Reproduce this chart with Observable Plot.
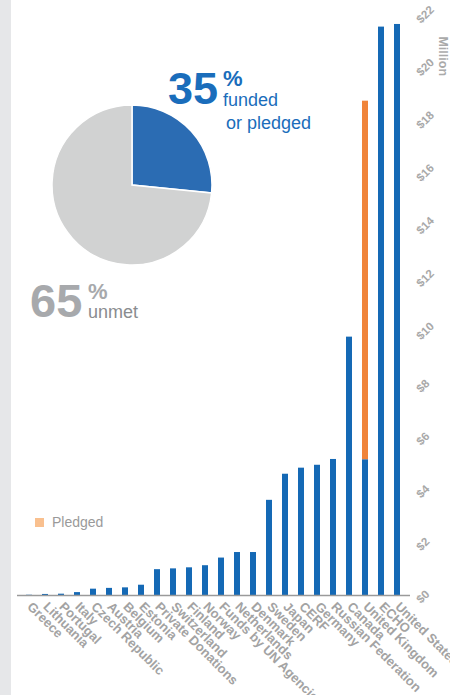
<!DOCTYPE html>
<html>
<head>
<meta charset="utf-8">
<script src="https://cdn.jsdelivr.net/npm/d3@7"></script>
<script src="https://cdn.jsdelivr.net/npm/@observablehq/plot@0.6"></script>
<style>
  html, body { margin: 0; padding: 0; background: #fff; }
  #wrap { position: relative; width: 450px; height: 695px; overflow: hidden; font-family: "Liberation Sans", Arial, sans-serif; }
  #strip { position: absolute; left: 0; top: 0; width: 11px; height: 695px; background: #e6e7e9; }
  #chart { position: absolute; left: 0; top: 0; }
  .t { position: absolute; white-space: nowrap; line-height: 1; }
</style>
</head>
<body>
<div id="wrap">
  <div id="strip"></div>
  <div id="chart"></div>
  <div class="t" style="left:168px; top:66px; font-size:45px; font-weight:bold; color:#1a6dbb;">35</div>
  <div class="t" style="left:223px; top:68px; font-size:22px; font-weight:bold; color:#1a6dbb;">%</div>
  <div class="t" style="left:223px; top:91px; font-size:18px; color:#1a6dbb;">funded</div>
  <div class="t" style="left:226px; top:114px; font-size:18px; color:#1a6dbb;">or pledged</div>
  <div class="t" style="left:30px; top:277px; font-size:47px; font-weight:bold; color:#a7a9ac;">65</div>
  <div class="t" style="left:88px; top:281px; font-size:22px; font-weight:bold; color:#a7a9ac;">%</div>
  <div class="t" style="left:88px; top:303px; font-size:18px; color:#8a8c8f;">unmet</div>
  <div class="t" style="left:35px; top:518px; width:9px; height:9px; background:#f9c08f;"></div>
  <div class="t" style="left:52px; top:515px; font-size:14px; color:#9a9a9a;">Pledged</div>
  <div class="t" style="left:423px; top:50px; font-size:12.5px; font-weight:bold; color:#aaaaaa; transform:rotate(90deg); transform-origin:center;">Million</div>
</div>
<script>
const countries = ["Greece","Lithuania","Portugal","Italy","Czech Republic","Austria","Belgium","Estonia","Private Donations","Switzerland","Finland","Norway","Funds by UN Agencies","Netherlands","Denmark","Sweden","Japan","CERF","Germany","Russian Federation","Canada","United Kingdom","ECHO","United States"];
const funded  = [0.01,0.04,0.05,0.11,0.24,0.27,0.29,0.39,0.98,1.01,1.05,1.13,1.42,1.63,1.63,3.61,4.6,4.83,4.94,5.16,9.8,5.15,21.56,21.66];
const pledged = [0,0,0,0,0,0,0,0,0,0,0,0,0,0,0,0,0,0,0,0,0,13.6,0,0];
const yTicks = [0,2,4,6,8,10,12,14,16,18,20,22];
const pieLabels = ["funded","unmet"];
const pieValues = [26.6, 73.4];
const pieColors = ["#2b6cb3", "#d1d2d2"];

const rows = [];
countries.forEach((c, i) => {
  rows.push({country: c, type: "Funded", value: funded[i]});
  rows.push({country: c, type: "Pledged", value: pledged[i]});
});

const pieMark = () => {
  const g = d3.create("svg:g").attr("transform", "translate(132,185)");
  const arcs = d3.pie().sort(null)(pieValues);
  const arc = d3.arc().innerRadius(0).outerRadius(80);
  g.selectAll("path").data(arcs).join("path")
    .attr("d", arc)
    .attr("fill", (d, i) => pieColors[i])
    .attr("stroke", "#fff")
    .attr("stroke-width", 1.5);
  return g.node();
};

const chart = Plot.plot({
  width: 450,
  height: 695,
  marginLeft: 17,
  marginRight: 40,
  marginTop: 15,
  marginBottom: 100,
  style: { background: "transparent", fontFamily: "Liberation Sans, Arial, sans-serif", overflow: "visible" },
  x: { domain: countries, paddingInner: 0.6, paddingOuter: 0.3, label: null, axis: null },
  y: { domain: [0, 22], label: null, axis: null },
  color: { domain: ["Funded", "Pledged"], range: ["#1569b5", "#f0843a"] },
  marks: [
    Plot.barY(rows, Plot.stackY({x: "country", y: "value", fill: "type", order: ["Funded","Pledged"]})),
    Plot.ruleY([0], {stroke: "#9a9a9a", strokeWidth: 1.5}),
    Plot.axisX({tickRotate: 45, tickSize: 0, tickPadding: 9, fontSize: 13, fontWeight: "bold", fill: "#a3a3a3", label: null}),
    Plot.axisY({anchor: "right", ticks: yTicks, tickFormat: d => "$" + d, tickRotate: -45, tickSize: 0, tickPadding: 6, dx: 2, dy: 6, fontSize: 11.5, fontWeight: "bold", fill: "#a8a8a8", label: null}),
    pieMark
  ]
});
document.getElementById("chart").appendChild(chart);
</script>
</body>
</html>
